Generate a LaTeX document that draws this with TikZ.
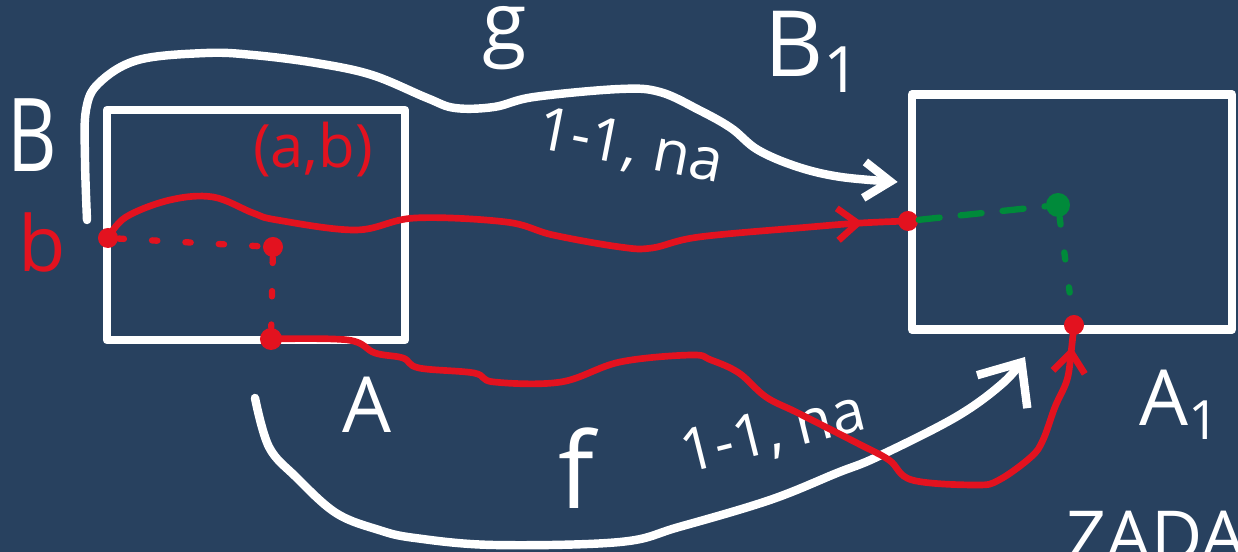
\documentclass[tikz,border=0pt]{standalone}
\usepackage{fontspec}
\setmainfont{Open Sans}
\usepackage{tikz}
\usetikzlibrary{arrows.meta,positioning,decorations.markings}
\definecolor{board}{HTML}{28415F}
\definecolor{chalk}{HTML}{FFFFFF}
\definecolor{redpen}{HTML}{E3121F}
\definecolor{greenpen}{HTML}{008A3A}

\begin{document}
\begin{tikzpicture}[
    x=0.01cm,y=-0.01cm,
    line cap=round,line join=round,
    set/.style={draw=chalk,line width=2.4pt,inner sep=0pt},
    dotr/.style={circle,fill=redpen,minimum size=0.2cm,inner sep=0pt},
    dotg/.style={circle,fill=greenpen,minimum size=0.24cm,inner sep=0pt},
    wmap/.style={draw=chalk,line width=2.4pt},
    rmap/.style={draw=redpen,line width=1.9pt},
    rdots/.style={draw=redpen,line width=1.8pt,dash pattern=on 1.5pt off 8pt},
    gdash/.style={draw=greenpen,line width=1.8pt,dash pattern=on 6pt off 6pt},
    gdots/.style={draw=greenpen,line width=1.8pt,dash pattern=on 2pt off 8pt},
    lbl/.style={text=chalk,inner sep=0pt},
    rlbl/.style={text=redpen,inner sep=0pt},
    tipmark/.style={decoration={markings,
      mark=at position #1 with {\arrow{Straight Barb[length=2mm,width=3.2mm]}}},
      postaction={decorate}}]
  \path[use as bounding box,fill=board] (0,0) rectangle (1238,552);
  % the two sets
  \node[set,minimum width=2.98cm,minimum height=2.3cm] (B) at (256,225) {};
  \node[set,minimum width=3.2cm,minimum height=2.35cm] (B1) at (1072,212) {};
  % points
  \node[dotr] (pb) at (108,238) {};
  \node[dotr] (pab) at (273,247) {};
  \node[dotr,minimum size=0.22cm] (pa) at (271,339) {};
  \node[dotr] (qb) at (908,221) {};
  \node[dotg] (qab) at (1058,205) {};
  \node[dotr] (qa) at (1074,325) {};
  \coordinate (gs) at (87,220);
  \coordinate (fs) at (255,398);
  \coordinate (ftip) at (1025,357);
  % labels
  \node[lbl,xscale=0.75,font=\fontsize{29}{29}\selectfont] (lB) at (32,135) {B};
  \node[rlbl,font=\fontsize{22}{22}\selectfont] (lb) at (42,242) {b};
  \node[rlbl,font=\fontsize{17}{17}\selectfont] (lab) at (313,150) {(a,b)};
  \node[lbl,font=\fontsize{23}{23}\selectfont] (lg) at (505,38) {g};
  \node[lbl,font=\fontsize{26}{26}\selectfont] (lB1) at (813,52) {B\textsubscript{1}};
  \node[lbl,rotate=-11,font=\fontsize{17}{17}\selectfont] (lginj) at (630,148) {1-1, na};
  \node[lbl,font=\fontsize{22}{22}\selectfont] (lA) at (367,405) {A};
  \node[lbl,font=\fontsize{30}{30}\selectfont] (lf) at (576,468) {f};
  \node[lbl,rotate=14,font=\fontsize{17}{17}\selectfont] (lfinj) at (773,434) {1-1, na};
  \node[lbl,font=\fontsize{22}{22}\selectfont] (lA1) at (1180,405) {A\textsubscript{1}};
  \node[lbl,anchor=base west,font=\fontsize{20}{20}\selectfont] (zada) at (1066,562) {ZADA};
  % g and f
  \draw[wmap,-{Straight Barb[length=2.6mm,width=3.6mm]}] plot[smooth,tension=0.6] coordinates {
    (gs) (85,160) (86,110) (99,83) (138,60) (206,53) (253,55) (316,63) (372,75)
    (427,98) (455,108) (494,107) (534,97) (620,89) (660,92) (699,110) (731,128)
    (758,150) (798,167) (841,177) ([xshift=-0.1cm,yshift=0.3cm]B1.west)};
  \draw[wmap,-{Straight Barb[length=3.5mm,width=6mm]}] plot[smooth,tension=0.6] coordinates {
    (fs) (269,447) (296,477) (336,513) (379,530) (415,538) (494,545) (620,542)
    (679,527) (770,500) (837,473) (877,457) (956,417) (1003,383) (ftip)};
  % the pair and its image
  \draw[rdots] (pb) -- (pab);
  \draw[rdots] (pab) -- (pa);
  \draw[rmap,tipmark=-0.45cm] plot[smooth,tension=0.6] coordinates {
    (pb) (126,217) (170,200) (213,197) (253,213) (277,220) (356,230) (415,218)
    (506,222) (553,235) (620,247) (652,248) (699,237) (810,227) (861,223) (qb)};
  \draw[rmap,tipmark=-0.22cm] plot[smooth,tension=0.6] coordinates {
    (pa) (348,340) (375,353) (403,358) (419,368) (474,373) (494,382) (561,382)
    (620,362) (691,355) (711,360) (739,373) (766,397) (798,413) (857,443)
    (889,460) (912,480) (976,485) (999,480) (1031,457) (1043,440) (1055,407)
    (1067,380) (1071,353) (qa)};
  \draw[gdash] (qb) -- (qab);
  \draw[gdots,shorten >=0.22cm] (qab) -- (qa);
\end{tikzpicture}
\end{document}
